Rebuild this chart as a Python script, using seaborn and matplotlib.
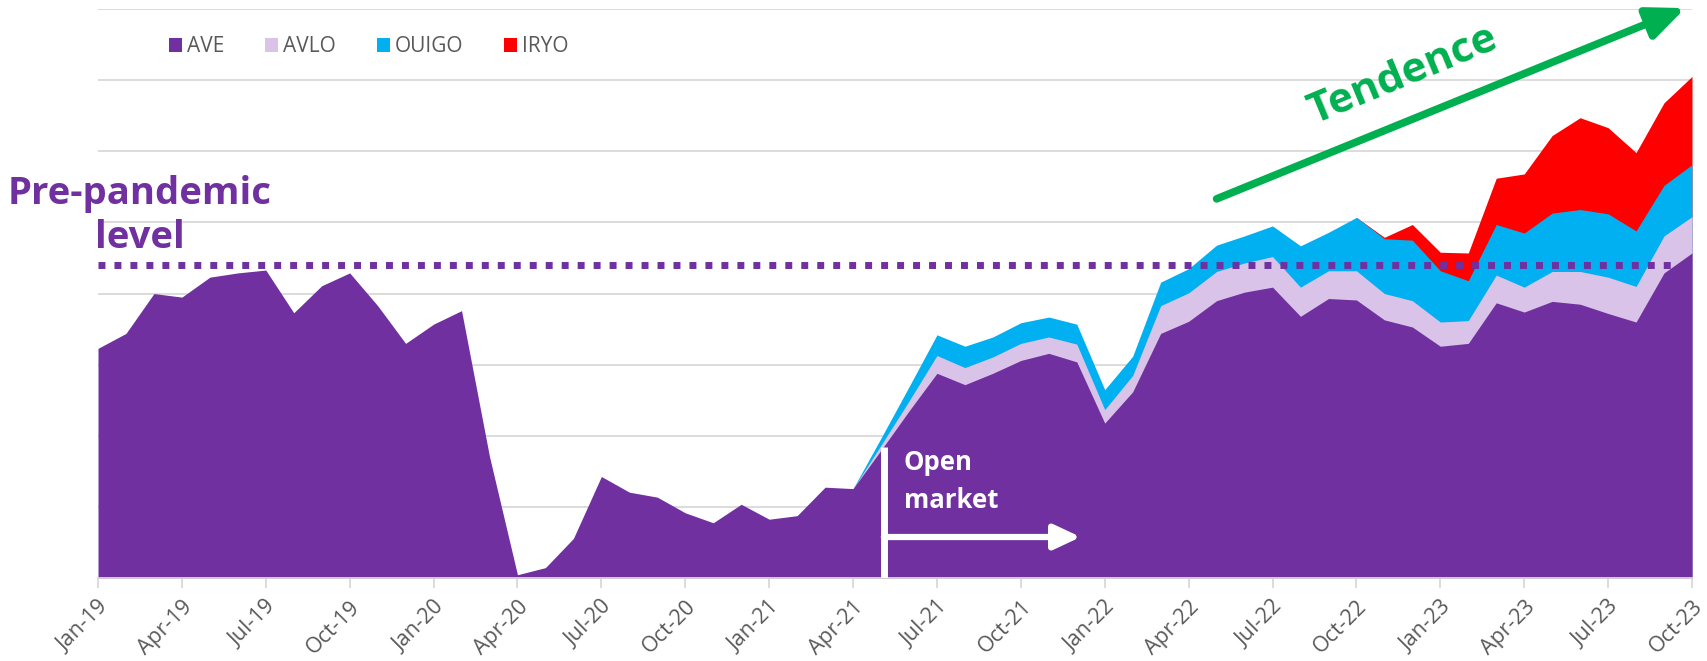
import numpy as np
import pandas as pd
import matplotlib
matplotlib.use("Agg")
import matplotlib.pyplot as plt
import seaborn as sns
from matplotlib.patches import Patch

# ---------------- data (relative passenger volume, gridline = 1 unit) ----------------
months = pd.date_range("2019-01-01", "2023-10-01", freq="MS").strftime("%b-%y").tolist()

ave = [3.23, 3.44, 4.00, 3.95, 4.23, 4.29, 4.33, 3.73, 4.11, 4.29, 3.83, 3.30,
       3.57, 3.76, 1.71, 0.05, 0.15, 0.56, 1.43, 1.21, 1.14, 0.92, 0.78, 1.04,
       0.83, 0.88, 1.28, 1.26, 1.80, 2.35, 2.88, 2.72, 2.88, 3.06, 3.16, 3.04,
       2.18, 2.62, 3.44, 3.61, 3.90, 4.02, 4.09, 3.68, 3.93, 3.91, 3.63, 3.53,
       3.26, 3.30, 3.87, 3.74, 3.89, 3.85, 3.72, 3.60, 4.29, 4.57]
avlo = [0] * 28 + [0.07, 0.14, 0.25, 0.24, 0.23, 0.24, 0.23, 0.25, 0.19, 0.23,
                   0.39, 0.40, 0.41, 0.41, 0.43, 0.41, 0.39, 0.41, 0.37, 0.37,
                   0.34, 0.32, 0.39, 0.35, 0.42, 0.46, 0.51, 0.50, 0.52, 0.51]
ouigo = [0] * 28 + [0.10, 0.20, 0.29, 0.30, 0.28, 0.29, 0.28, 0.28, 0.28, 0.27,
                    0.33, 0.34, 0.37, 0.38, 0.43, 0.58, 0.54, 0.75, 0.77, 0.85,
                    0.72, 0.56, 0.71, 0.76, 0.82, 0.87, 0.89, 0.78, 0.71, 0.73]
iryo = [0] * 45 + [0.00, 0.02, 0.22, 0.26, 0.39, 0.65, 0.83, 1.09, 1.29, 1.21,
                   1.10, 1.16, 1.24]

series_names = ["AVE", "AVLO", "OUIGO", "IRYO"]
pre_pandemic_level = 4.40
open_market_month = "May-21"
ouigo_start = "Apr-21"
iryo_start = "Oct-22"

colors = {"AVE": "#7030A0", "AVLO": "#D9C3E9", "OUIGO": "#00B0F0", "IRYO": "#FF0000"}

df = pd.DataFrame({"month": months, "AVE": ave, "AVLO": avlo, "OUIGO": ouigo, "IRYO": iryo})
df["x"] = np.arange(len(df))

# ---------------- figure ----------------
sns.set_theme(style="white")
plt.rcParams["font.family"] = ["Open Sans", "DejaVu Sans"]

W, H = 1708, 661
fig = plt.figure(figsize=(W / 100, H / 100), dpi=100)
x0, x1, ybase, ytop = 98, 1692, 578.3, 8.8
ax = fig.add_axes([x0 / W, (H - ybase) / H, (x1 - x0) / W, (ybase - ytop) / H])

x = df["x"].to_numpy()
c1 = df["AVE"].to_numpy()
c2 = c1 + df["AVLO"].to_numpy()
c3 = c2 + df["OUIGO"].to_numpy()
c4 = c3 + df["IRYO"].to_numpy()
i_ou = months.index(ouigo_start)
i_ir = months.index(iryo_start)

ax.fill_between(x, 0, c4, where=x >= i_ir, color=colors["IRYO"], lw=0, zorder=2)
ax.fill_between(x, 0, c3, where=x >= i_ou, color=colors["OUIGO"], lw=0, zorder=3)
ax.fill_between(x, 0, c2, where=x >= i_ou, color=colors["AVLO"], lw=0, zorder=4)
ax.fill_between(x, 0, c1, color=colors["AVE"], lw=0, zorder=5)

# pre-pandemic dotted line
sns.lineplot(x=[0, 56.4], y=[pre_pandemic_level] * 2, ax=ax, color="#7030A0",
             lw=5.0, zorder=6, legend=False)
ax.lines[-1].set_linestyle((0, (1, 1.3)))
ax.lines[-1].set_dash_capstyle("butt")

# open market marker
xo = months.index(open_market_month) + 0.1
ax.plot([xo, xo], [0, 1.85], color="white", lw=5, solid_capstyle="butt", zorder=7)
ax.annotate("", xy=(35.14, 0.58), xytext=(xo, 0.58),
            arrowprops=dict(arrowstyle="-|>,head_length=1.6,head_width=0.75",
                            color="white", lw=4.5, shrinkA=0, shrinkB=0,
                            mutation_scale=10), zorder=7)
fig.text(904 / W, 1 - 470 / H, "Open", color="white", fontsize=18.5,
         fontweight="bold", ha="left", va="baseline", zorder=8)
fig.text(904 / W, 1 - 508 / H, "market", color="white", fontsize=18.5,
         fontweight="bold", ha="left", va="baseline", zorder=8)

# trend arrow
ax.annotate("", xy=(56.76, 8.01), xytext=(40.0, 5.33), annotation_clip=False,
            arrowprops=dict(arrowstyle="-|>,head_length=1.5,head_width=0.65",
                            color="#00B050", lw=5.5, shrinkA=0, shrinkB=0,
                            mutation_scale=15), zorder=8)
fig.text(1403 / W, 1 - 76 / H, "Tendence", color="#00B050", fontsize=30.5,
         fontweight="bold", rotation=22.5, ha="center", va="center",
         rotation_mode="anchor")

# pre-pandemic label
fig.text(140 / W, 1 - 204 / H, "Pre-pandemic", color="#7030A0", fontsize=27.5,
         fontweight="bold", ha="center", va="baseline")
fig.text(140 / W, 1 - 248 / H, "level", color="#7030A0", fontsize=27.5,
         fontweight="bold", ha="center", va="baseline")

# axes styling
ax.set_xlim(0, len(months) - 1)
ax.set_ylim(0, 8)
ax.set_yticks(np.arange(1, 9))
ax.set_yticklabels([])
ax.tick_params(axis="y", length=0)
ax.grid(axis="y", color="#D9D9D9", lw=1.3, zorder=0)
ax.grid(axis="x", visible=False)
ax.set_axisbelow(True)
for s in ["left", "right", "top"]:
    ax.spines[s].set_visible(False)
ax.spines["bottom"].set_color("#D9D9D9")
ax.spines["bottom"].set_linewidth(1.3)
ax.spines["bottom"].set_zorder(6)

tick_pos = list(range(0, len(months), 3))
ax.set_xticks(tick_pos)
ax.set_xticklabels([months[i] for i in tick_pos], rotation=45, ha="right",
                   rotation_mode="anchor", color="#595959", fontsize=15.5)
ax.tick_params(axis="x", length=7, width=1.3, color="#D9D9D9", pad=6, bottom=True)
ax.set_xlabel("")
ax.set_ylabel("")

handles = [Patch(facecolor=colors[n], edgecolor="none") for n in series_names]
leg = ax.legend(handles, series_names, loc="center left",
                bbox_to_anchor=((169 - x0) / (x1 - x0), (ybase - 47) / (ybase - ytop)),
                ncol=4, frameon=False, fontsize=15, handlelength=0.62,
                handleheight=0.62, handletextpad=0.25, columnspacing=1.95,
                borderpad=0, borderaxespad=0)
for t in leg.get_texts():
    t.set_color("#595959")

fig.savefig("out.png", dpi=100)
